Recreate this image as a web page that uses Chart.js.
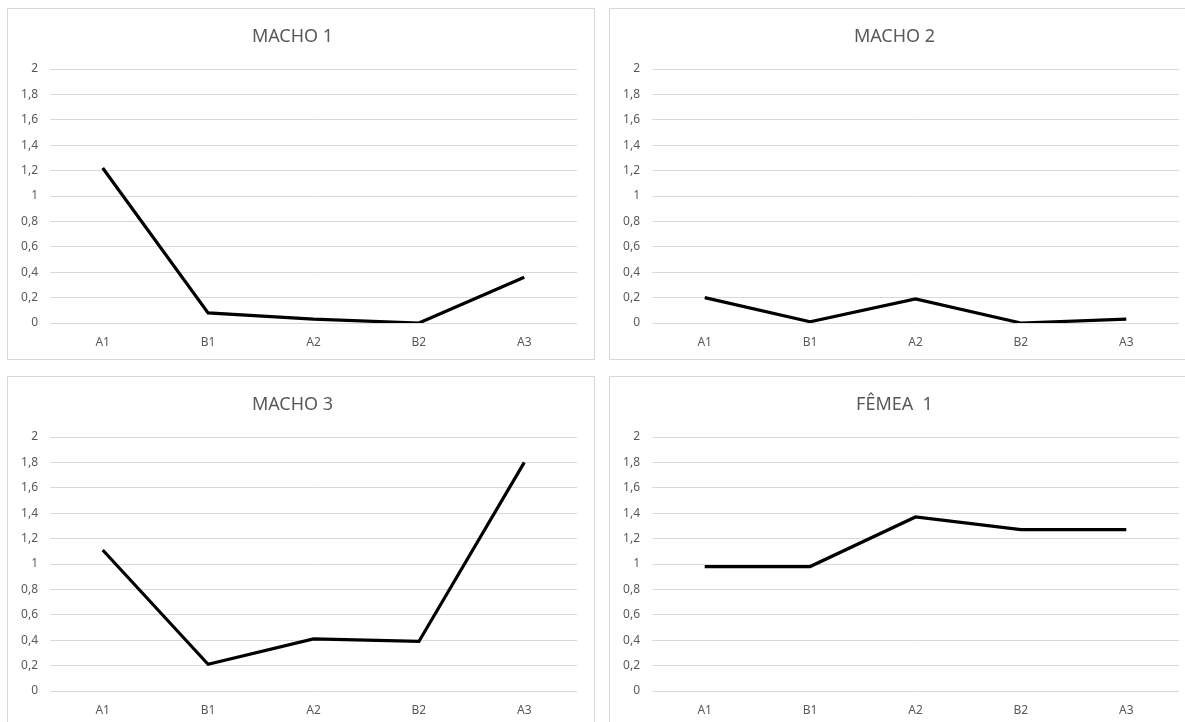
<!DOCTYPE html>
<html>
<head>
<meta charset="utf-8">
<script src="https://cdn.jsdelivr.net/npm/chart.js@4/dist/chart.umd.min.js"></script>
<style>
  html, body { margin: 0; padding: 0; background: #fff; width: 1185px; height: 722px; overflow: hidden; }
  .panel { position: absolute; width: 588px; height: 352px; border: 1px solid #d9d9d9; box-sizing: border-box; background: #fff; }
  .panel canvas { display: block; }
</style>
</head>
<body>
<div class="panel" style="left:7px; top:8px;"><canvas id="c1" width="586" height="350"></canvas></div>
<div class="panel" style="left:609px; top:8px;"><canvas id="c2" width="586" height="350"></canvas></div>
<div class="panel" style="left:7px; top:376px;"><canvas id="c3" width="586" height="350"></canvas></div>
<div class="panel" style="left:609px; top:376px;"><canvas id="c4" width="586" height="350"></canvas></div>
<script>
const categories = ['A1', 'B1', 'A2', 'B2', 'A3'];
const macho1 = [1.22, 0.08, 0.03, 0.00, 0.36];
const macho2 = [0.20, 0.01, 0.19, 0.00, 0.03];
const macho3 = [1.11, 0.21, 0.41, 0.39, 1.80];
const femea1 = [0.98, 0.98, 1.37, 1.27, 1.27];
const titles = ['MACHO 1', 'MACHO 2', 'MACHO 3', 'FÊMEA  1'];
const yTickLabels = ['0', '0,2', '0,4', '0,6', '0,8', '1', '1,2', '1,4', '1,6', '1,8', '2'];

const FONT = "'Noto Sans', 'Open Sans', sans-serif";

function makeChart(id, title, values) {
  new Chart(document.getElementById(id), {
    type: 'line',
    data: {
      labels: categories,
      datasets: [{
        data: values,
        borderColor: '#000000',
        borderWidth: 3.2,
        pointRadius: 0,
        pointHoverRadius: 0,
        fill: false,
        tension: 0
      }]
    },
    options: {
      responsive: false,
      animation: false,
      devicePixelRatio: 1,
      layout: { padding: { left: 0, right: 17, top: 0, bottom: 0 } },
      plugins: {
        legend: { display: false },
        tooltip: { enabled: false },
        title: {
          display: true,
          text: title,
          color: '#595959',
          font: { family: FONT, size: 18, weight: 'normal' },
          padding: { top: 17.2, bottom: 21.2 }
        }
      },
      scales: {
        x: {
          offset: true,
          grid: { display: false, drawTicks: false },
          border: { display: false },
          ticks: { color: '#595959', font: { family: FONT, size: 12 }, padding: 12, maxRotation: 0 },
          afterFit: s => { s.height = 36; }
        },
        y: {
          min: 0, max: 2,
          grid: { color: '#d9d9d9', lineWidth: 1, drawTicks: false },
          border: { display: false },
          ticks: {
            stepSize: 0.2,
            color: '#595959',
            font: { family: FONT, size: 12 },
            padding: 12,
            callback: (v, i) => yTickLabels[i]
          },
          afterFit: s => { s.width = 42; }
        }
      }
    }
  });
}

makeChart('c1', titles[0], macho1);
makeChart('c2', titles[1], macho2);
makeChart('c3', titles[2], macho3);
makeChart('c4', titles[3], femea1);
</script>
</body>
</html>
